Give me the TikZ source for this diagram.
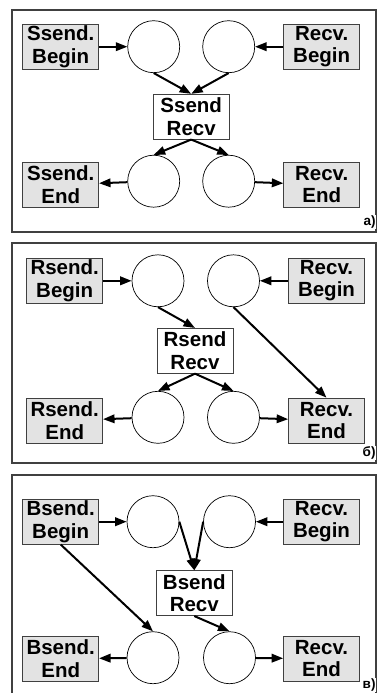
\documentclass[tikz,border=0pt]{standalone}
\usepackage{fontspec}
\setmainfont{Liberation Sans}
\usepackage{tikz}
\usetikzlibrary{shapes,arrows.meta,positioning}

\definecolor{boxgray}{RGB}{227,227,227}

\begin{document}
\begin{tikzpicture}[->,>={Triangle[length=11.5pt,width=8.5pt]}, x=1pt, y=-1pt, line width=2pt, on grid,
			font=\fontsize{20.5}{22.5}\selectfont\bfseries]
			\tikzstyle{call}=[draw=black!75, fill=boxgray, line width=0.7pt, align=center,
			minimum width=76pt, minimum height=45pt, inner sep=0pt]
			\tikzstyle{pair}=[call, fill=white]
			\tikzstyle{place}=[draw, circle, fill=white, line width=0.7pt, minimum size=52pt, inner sep=0pt]
			\tikzstyle{panel}=[-, draw=black!75, line width=1.2pt]
			\tikzstyle{tag}=[font=\fontsize{13.5}{15}\selectfont\bfseries, anchor=south east, fill=white, inner sep=0.5pt]
			\useasboundingbox (0,0) rectangle (378,693);
			\draw[panel] (12,10) rectangle (376,232);
			\draw[panel] (12,243) rectangle (376,463);
			\draw[panel] (12,475) rectangle (376,702);
			% a) synchronous send
			\node[call] (sbeginA) at (60.7,46.7) {Ssend.\\Begin};
			\node[place] (s1A) [right=93pt of sbeginA] {};
			\node[place] (r1A) [right=75pt of s1A] {};
			\node[call] (rbeginA) [right=93pt of r1A] {Recv.\\Begin};
			\node[pair] (midA) [below right=70pt and 37.5pt of s1A] {Ssend\\Recv};
			\node[place] (s2A) [below=134.5pt of s1A] {};
			\node[place] (r2A) [below=134.5pt of r1A] {};
			\node[call] (sendA) [below=138pt of sbeginA] {Ssend.\\End};
			\node[call] (rendA) [below=138pt of rbeginA] {Recv.\\End};
			\node[tag] (tagA) at (377,230) {a)};
			% b) ready send
			\node[call] (sbeginB) at (64.7,280.8) {Rsend.\\Begin};
			\node[place] (s1B) [right=93.3pt of sbeginB] {};
			\node[place] (r1B) [right=75.5pt of s1B] {};
			\node[call] (rbeginB) [right=93pt of r1B] {Recv.\\Begin};
			\node[pair] (midB) [below right=70pt and 37pt of s1B] {Rsend\\Recv};
			\node[place] (s2B) [below=136.5pt of s1B] {};
			\node[place] (r2B) [below=136.5pt of r1B] {};
			\node[call] (sendB) [below=139.7pt of sbeginB] {Rsend.\\End};
			\node[call] (rendB) [below=139.7pt of rbeginB] {Recv.\\End};
			\node[tag] (tagB) at (377,461) {б)};
			% c) buffered send
			\node[call] (sbeginC) at (60.7,521.7) {Bsend.\\Begin};
			\node[place] (s1C) [right=92.3pt of sbeginC] {};
			\node[place] (r1C) [right=76.5pt of s1C] {};
			\node[call] (rbeginC) [right=92pt of r1C] {Recv.\\Begin};
			\node[pair] (midC) [below right=71.5pt and 41.3pt of s1C] {Bsend\\Recv};
			\node[place] (s2C) [below=136pt of s1C] {};
			\node[place] (r2C) [below=136pt of r1C] {};
			\node[call] (sendC) [below=137pt of sbeginC] {Bsend.\\End};
			\node[call] (rendC) [below=137pt of rbeginC] {Recv.\\End};
			\node[tag] (tagC) at (377,693) {в)};

			\path (sbeginA) edge (s1A);
			\path (rbeginA) edge (r1A);
			\path (s1A.south) edge (midA.north);
			\path (r1A.south) edge (midA.north);
			\path (midA.south) edge (s2A.north);
			\path (midA.south) edge (r2A.north);
			\path (s2A) edge (sendA);
			\path (r2A) edge (rendA);

			\path (sbeginB) edge (s1B);
			\path (rbeginB) edge (r1B);
			\path (s1B.south) edge (midB.north);
			\path (r1B.south) edge (rendB.north);
			\path (midB.south) edge (s2B.north);
			\path (midB.south) edge (r2B.north);
			\path (s2B) edge (sendB);
			\path (r2B) edge (rendB);

			\path (sbeginC) edge (s1C);
			\path (rbeginC) edge (r1C);
			\path (s1C.east) edge (midC.north);
			\path (r1C.west) edge (midC.north);
			\path (sbeginC.south) edge (s2C.north);
			\path (midC.south) edge (r2C.north);
			\path (s2C) edge (sendC);
			\path (r2C) edge (rendC);
		\end{tikzpicture}
\end{document}
